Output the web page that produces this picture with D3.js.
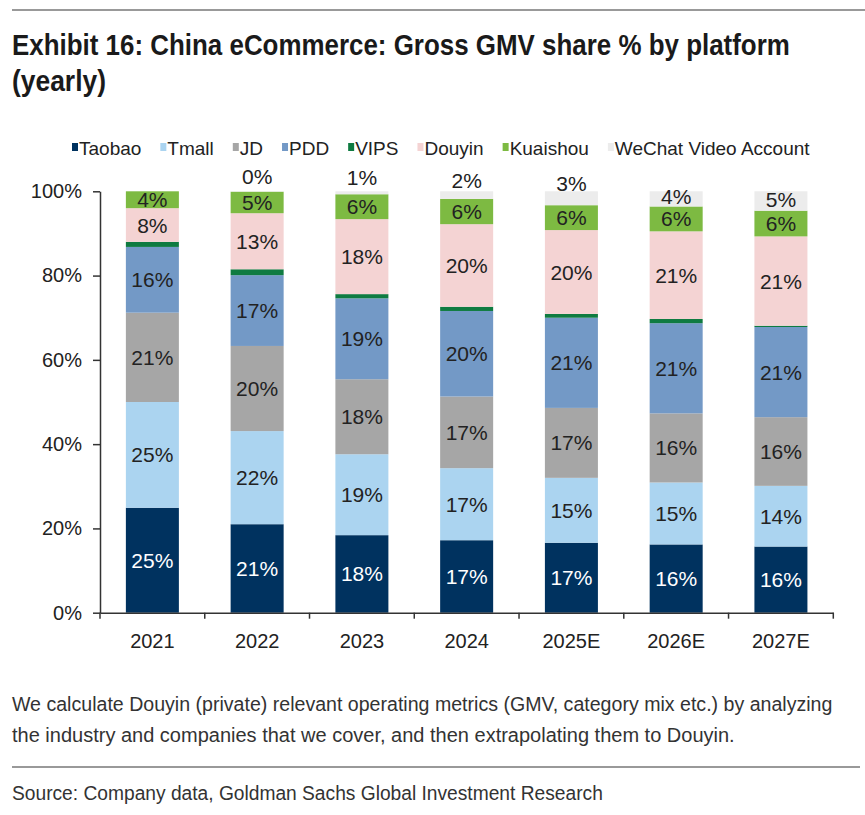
<!DOCTYPE html>
<html>
<head>
<meta charset="utf-8">
<script src="https://cdn.jsdelivr.net/npm/d3@7"></script>
<style>
    body { margin: 0; background: #fff; }
    svg { display: block; }
    .narrow { font-family: "Liberation Sans Narrow", "Liberation Sans", Arial, sans-serif; }
    .sans { font-family: "Liberation Sans", Arial, sans-serif; }
</style>
</head>
<body>
<svg id="chart" width="865" height="815"></svg>
<script>
// 年份与平台
const years = ['2021', '2022', '2023', '2024', '2025E', '2026E', '2027E'];
const platforms = ['Taobao', 'Tmall', 'JD', 'PDD', 'VIPS', 'Douyin', 'Kuaishou', 'WeChat Video Account'];
const colors = ['#00325f', '#abd4f0', '#a6a6a6', '#7399c6', '#0f7b41', '#f4d3d3', '#7dba42', '#ececec'];

// GMV 份额 (%)
const taobao   = [24.9, 21.0, 18.4, 17.2, 16.6, 16.2, 15.7];
const tmall    = [25.1, 22.1, 19.2, 17.1, 15.4, 14.7, 14.4];
const jd       = [21.2, 20.2, 17.8, 17.0, 16.6, 16.4, 16.3];
const pdd      = [15.6, 16.8, 19.2, 20.3, 21.4, 21.4, 21.4];
const vips     = [1.2, 1.4, 1.0, 1.0, 0.9, 1.0, 0.3];
const douyin   = [8.0, 13.3, 17.8, 19.6, 19.9, 20.8, 21.2];
const kuaishou = [4.0, 5.1, 5.9, 6.0, 5.9, 5.9, 6.1];
const wechat   = [null, 0.1, 0.7, 1.8, 3.3, 3.6, 4.6];

const yTicks = [0, 20, 40, 60, 80, 100];
const title = ['Exhibit 16: China eCommerce: Gross GMV share % by platform', '(yearly)'];
const note = ['We calculate Douyin (private) relevant operating metrics (GMV, category mix etc.) by analyzing',
    'the industry and companies that we cover, and then extrapolating them to Douyin.'];
const source = 'Source: Company data, Goldman Sachs Global Investment Research';

const series = [taobao, tmall, jd, pdd, vips, douyin, kuaishou, wechat];
const rows = years.map((yr, i) => {
    const row = { year: yr };
    platforms.forEach((p, k) => { row[p] = series[k][i]; });
    return row;
});

const svg = d3.select('#chart');

// 没有窄体字时横向压缩到参考宽度 (用 transform，不用 textLength)
const fitWidth = (sel, widths) => {
    sel.each(function (d, i) {
        const node = d3.select(this);
        const tx = +node.attr('x');
        const ty = +node.attr('y');
        const len = this.getComputedTextLength();
        const s = len > widths[i] ? widths[i] / len : 1;
        node.attr('x', 0).attr('y', 0)
            .attr('transform', 'translate(' + tx + ',' + ty + ') scale(' + s + ',1)');
    });
};

// 顶部灰线与标题
svg.append('line')
    .attr('x1', 12).attr('x2', 865).attr('y1', 10).attr('y2', 10)
    .attr('stroke', '#999').attr('stroke-width', 2);
const titleText = svg.selectAll('text.title')
    .data(title)
    .enter().append('text')
    .attr('class', 'title narrow')
    .attr('x', 12)
    .attr('y', (d, i) => 55 + i * 36)
    .attr('font-size', 29)
    .attr('font-weight', 'bold')
    .attr('fill', '#1a1a1a')
    .text(d => d);
fitWidth(titleText, [778, 94]);

const x = d3.scaleBand()
    .domain(years)
    .range([100, 833.3])
    .paddingInner(0.494)
    .paddingOuter(0.247);
const y = d3.scaleLinear()
    .domain([0, 100])
    .range([612.7, 191.3]);

const stack = d3.stack()
    .keys(platforms)
    .value((d, key) => d[key] || 0);
const stacked = stack(rows);

// 柱子
const layers = svg.append('g').attr('class', 'bars')
    .selectAll('g.layer')
    .data(stacked)
    .enter().append('g')
    .attr('class', 'layer')
    .attr('fill', (d, i) => colors[i]);
layers.selectAll('rect')
    .data(d => d)
    .enter().append('rect')
    .attr('x', d => x(d.data.year))
    .attr('width', x.bandwidth())
    .attr('y', d => y(d[1]))
    .attr('height', d => y(d[0]) - y(d[1]));

// 数据标签 (VIPS 不标)
const labels = svg.append('g').attr('class', 'labels sans');
stacked.forEach((layer, k) => {
    if (platforms[k] === 'VIPS') return;
    const isWechat = platforms[k] === 'WeChat Video Account';
    labels.selectAll('text.l' + k)
        .data(layer.filter(d => d.data[platforms[k]] !== null))
        .enter().append('text')
        .attr('class', 'l' + k)
        .attr('x', d => x(d.data.year) + x.bandwidth() / 2)
        .attr('y', d => {
            const v = d.data[platforms[k]];
            const cy = y((d[0] + d[1]) / 2);
            if (!isWechat) return cy;
            return v < 3.5 ? cy - 15 : cy - 2;
        })
        .attr('dy', '0.36em')
        .attr('text-anchor', 'middle')
        .attr('font-size', 21)
        .attr('fill', k === 0 ? '#fff' : '#222')
        .text(d => Math.round(d.data[platforms[k]]) + '%');
});

// Y 轴
const yAxis = svg.append('g')
    .attr('class', 'sans')
    .attr('transform', 'translate(100,0)')
    .call(d3.axisLeft(y).tickValues(yTicks).tickSize(7).tickSizeOuter(0).tickPadding(11)
        .tickFormat(d => d + '%'));
yAxis.select('.domain').attr('stroke', '#333').attr('stroke-width', 1.5);
yAxis.selectAll('.tick line').attr('stroke', '#333').attr('stroke-width', 1.5);
yAxis.selectAll('.tick text').attr('font-size', 20).attr('fill', '#222');

// X 轴：类别分界处刻度
const xAxis = svg.append('g')
    .attr('class', 'sans')
    .attr('transform', 'translate(0,612.7)')
    .call(d3.axisBottom(x).tickSize(0).tickSizeOuter(0).tickPadding(21));
xAxis.select('.domain').attr('stroke', '#333').attr('stroke-width', 1.5);
xAxis.selectAll('.tick text').attr('font-size', 20).attr('fill', '#222');
const bounds = years.map(yr => x(yr) - x.step() * x.paddingInner() / 2).concat([x.range()[1]]);
bounds[0] = x.range()[0];
xAxis.selectAll('line.bound')
    .data(bounds)
    .enter().append('line')
    .attr('class', 'bound')
    .attr('x1', d => d).attr('x2', d => d)
    .attr('y1', 0).attr('y2', 6)
    .attr('stroke', '#333').attr('stroke-width', 1.5);

// 图例
const legend = svg.append('g').attr('class', 'legend sans');
let lx = 72;
platforms.forEach((p, k) => {
    legend.append('rect')
        .attr('x', lx).attr('y', 143)
        .attr('width', 6).attr('height', 8)
        .attr('fill', colors[k]);
    const t = legend.append('text')
        .attr('x', lx + 7).attr('y', 154.5)
        .attr('font-size', 19)
        .attr('fill', '#222')
        .text(p);
    lx += 7 + t.node().getComputedTextLength() + 19;
});

// 注释与来源
const noteText = svg.selectAll('text.note')
    .data(note)
    .enter().append('text')
    .attr('class', 'note narrow')
    .attr('x', 12)
    .attr('y', (d, i) => 711 + i * 31)
    .attr('font-size', 20)
    .attr('fill', '#333')
    .text(d => d);
fitWidth(noteText, [821, 730]);
svg.append('line')
    .attr('x1', 12).attr('x2', 860).attr('y1', 767).attr('y2', 767)
    .attr('stroke', '#999').attr('stroke-width', 2);
const sourceText = svg.append('text')
    .attr('class', 'narrow')
    .attr('x', 12).attr('y', 800)
    .attr('font-size', 20)
    .attr('fill', '#333')
    .text(source);
fitWidth(sourceText, [591]);
</script>
</body>
</html>
